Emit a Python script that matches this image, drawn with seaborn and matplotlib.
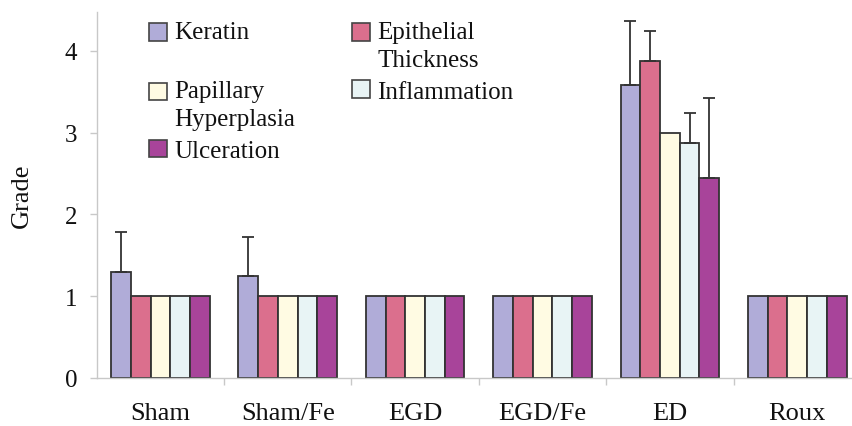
import numpy as np
import pandas as pd
import matplotlib
matplotlib.use("Agg")
import matplotlib.pyplot as plt
import seaborn as sns
from matplotlib.ticker import FixedLocator

groups = ["Sham", "Sham/Fe", "EGD", "EGD/Fe", "ED", "Roux"]
measures = ["Keratin", "Epithelial\nThickness", "Papillary\nHyperplasia", "Inflammation", "Ulceration"]
colors = ["#b0acd8", "#db6f8d", "#fffbe3", "#e8f4f5", "#a8449a"]

keratin      = [1.30, 1.25, 1.0, 1.0, 3.58, 1.0]
epithelial   = [1.0, 1.0, 1.0, 1.0, 3.87, 1.0]
papillary    = [1.0, 1.0, 1.0, 1.0, 3.00, 1.0]
inflammation = [1.0, 1.0, 1.0, 1.0, 2.87, 1.0]
ulceration   = [1.0, 1.0, 1.0, 1.0, 2.44, 1.0]

keratin_err      = [0.48, 0.47, 0, 0, 0.78, 0]
epithelial_err   = [0, 0, 0, 0, 0.37, 0]
papillary_err    = [0, 0, 0, 0, 0, 0]
inflammation_err = [0, 0, 0, 0, 0.37, 0]
ulceration_err   = [0, 0, 0, 0, 0.98, 0]

values = [keratin, epithelial, papillary, inflammation, ulceration]
errors = [keratin_err, epithelial_err, papillary_err, inflammation_err, ulceration_err]

df = pd.DataFrame({
    "group": np.repeat([groups], len(measures), axis=0).ravel(),
    "measure": np.repeat(measures, len(groups)),
    "value": np.concatenate(values),
})

sns.set_style("white")
plt.rcParams["font.family"] = ["Liberation Serif", "DejaVu Serif"]
plt.rcParams["text.color"] = "#111111"
plt.rcParams["xtick.color"] = "#111111"
plt.rcParams["ytick.color"] = "#111111"
plt.rcParams["axes.labelcolor"] = "#111111"

fig = plt.figure(figsize=(8.52, 4.27), dpi=100)
axw = 1 - 96.7 / 852
ax = fig.add_axes([96.7 / 852, 48 / 427, axw, (379 - 13.4) / 427])

sns.barplot(data=df, x="group", y="value", hue="measure", order=groups,
            hue_order=measures, palette=colors, width=0.775,
            edgecolor="#333333", linewidth=1.3, errorbar=None, ax=ax,
            saturation=1)

for cont, err in zip(ax.containers, errors):
    xs = [b.get_x() + b.get_width() / 2 for b in cont]
    hs = [b.get_height() for b in cont]
    for x, h, e in zip(xs, hs, err):
        if e > 0:
            ax.errorbar([x], [h], yerr=[[0], [e]], fmt="none", ecolor="#333333",
                        elinewidth=1.3, capsize=4.3, capthick=1.3, zorder=1)

ax.set_xlim(-0.5, 5.43)
ax.set_ylim(0, 4.47)
ax.set_yticks([0, 1, 2, 3, 4])
ax.set_xlabel("")
ax.set_ylabel("Grade", fontsize=19)
ax.yaxis.set_label_coords(-(96.7 - 33) / 852 / axw, 0.5)

for s in ["top", "right"]:
    ax.spines[s].set_visible(False)
for s in ["left", "bottom"]:
    ax.spines[s].set_color("#c8c8c8")
    ax.spines[s].set_linewidth(1.0)

ax.tick_params(axis="y", left=True, length=5, width=1, color="#c8c8c8",
               labelsize=18, pad=9, direction="out", labelcolor="#111111")
ax.tick_params(axis="x", which="major", length=0, labelsize=19, pad=17,
               labelcolor="#111111")
ax.xaxis.set_minor_locator(FixedLocator([0.5, 1.5, 2.5, 3.5, 4.5]))
ax.tick_params(axis="x", which="minor", bottom=True, length=5, width=1,
               color="#c8c8c8", direction="out")

handles, labels = ax.get_legend_handles_labels()
hmap = dict(zip(labels, handles))
order = ["Keratin", "Papillary\nHyperplasia", "Ulceration", "Epithelial\nThickness", "Inflammation"]
disp = {"Keratin": "Keratin\n ", "Papillary\nHyperplasia": "Papillary\nHyperplasia",
        "Ulceration": "Ulceration", "Epithelial\nThickness": "Epithelial\nThickness",
        "Inflammation": "Inflammation"}
fs = 18
leg = ax.legend([hmap[k] for k in order], [disp[k] for k in order], ncol=2,
                loc="upper left", bbox_to_anchor=(149 / 852, 1 - 22 / 427),
                bbox_transform=fig.transFigure, frameon=False, fontsize=fs,
                handlelength=0.7, handleheight=0.7, handletextpad=0.3,
                columnspacing=2.3, labelspacing=0.38, borderpad=0, borderaxespad=0)
for t in leg.get_texts():
    t.set_linespacing(1.35)
for h, lab in zip(leg.legend_handles, [disp[k] for k in order]):
    h.set_edgecolor("#444444")
    h.set_linewidth(1.2)
    if "\n" in lab:
        h.set_y(h.get_y() + 0.55 * fs)

fig.savefig("out.png", dpi=100)
